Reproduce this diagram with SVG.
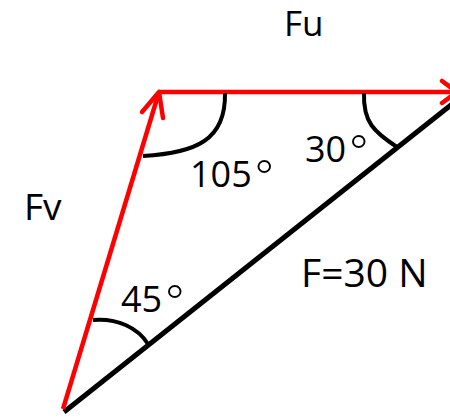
<svg xmlns="http://www.w3.org/2000/svg" width="450" height="420" viewBox="0 0 450 420">
<style>
.red{stroke:#ff0000;stroke-width:4.5;fill:none;stroke-linecap:round;stroke-linejoin:round}
.blk{stroke:#000;stroke-width:5;fill:none}
.arc{stroke:#000;stroke-width:4;fill:none}
text{font-family:"Open Sans","Liberation Sans",sans-serif;font-size:36px;fill:#000}
.deg{font-family:"DejaVu Sans","Liberation Sans",sans-serif;font-weight:200;font-size:50px}
</style>
<rect width="450" height="420" fill="#fff"/>
<g id="connectors">
<line id="F" class="blk" x1="64" y1="412" x2="456" y2="101"/>
<line id="Fv" class="red" x1="63" y1="409" x2="159" y2="92" style="stroke-linecap:butt"/>
<polyline class="red" points="142,112 159,92 163,118"/>
<line id="Fu" class="red" x1="159" y1="92" x2="456" y2="92" style="stroke-linecap:butt"/>
<polyline class="red" points="442,81 457,92 442,103"/>
</g>
<g id="angle105">
<path class="arc" d="M225,93 C226,140 196,153 143,156"/>
<text x="190" y="187">105<tspan class="deg" dy="9">°</tspan></text>
</g>
<g id="angle30">
<path class="arc" d="M364,93 C363,122 374,132 397,147"/>
<text x="305" y="162">30<tspan class="deg" dy="9">°</tspan></text>
</g>
<g id="angle45">
<path class="arc" d="M93,320 C118,318 138,328 148,344"/>
<text x="121" y="312">45<tspan class="deg" dy="9">°</tspan></text>
</g>
<g id="labels">
<text x="284" y="36" style="font-size:35px">Fu</text>
<text x="24" y="220" style="font-size:37px">Fv</text>
<text x="301" y="287" style="font-size:39px">F=30 N</text>
</g>
</svg>
